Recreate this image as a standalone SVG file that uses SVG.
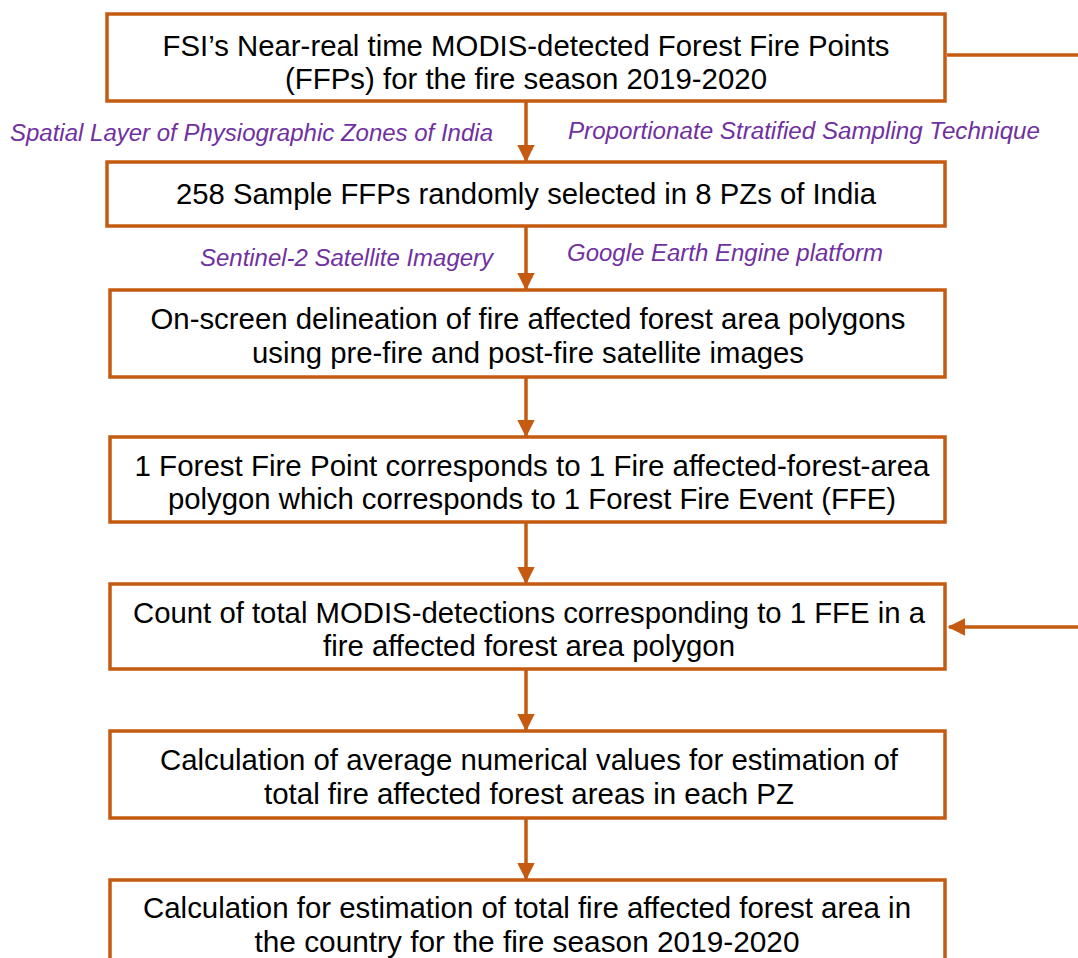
<svg xmlns="http://www.w3.org/2000/svg" width="1078" height="958" viewBox="0 0 1078 958">
<style>
.box{fill:#fff;stroke:#C55A11;stroke-width:3.5}
.t{font-family:"Liberation Sans",Arial,sans-serif;font-size:29px;fill:#000;text-anchor:middle}
.l{font-family:"Liberation Sans",Arial,sans-serif;font-size:23px;font-style:italic;fill:#7030A0}
.c{stroke:#C55A11;stroke-width:3.5;fill:none}
</style>
<defs>
<marker id="ah" markerWidth="5" markerHeight="5" refX="4.6" refY="2.5" orient="auto" markerUnits="strokeWidth">
<path d="M0,0 L5,2.5 L0,5 Z" fill="#C55A11"/>
</marker>
</defs>
<rect width="1078" height="958" fill="#fff"/>
<g id="connectors">
<line class="c" x1="947" y1="55" x2="1078" y2="55"/>
<line class="c" x1="1078" y1="627" x2="949" y2="627" marker-end="url(#ah)"/>
<line class="c" x1="526" y1="101" x2="526" y2="161" marker-end="url(#ah)"/>
<line class="c" x1="526" y1="226" x2="526" y2="289" marker-end="url(#ah)"/>
<line class="c" x1="526" y1="377" x2="526" y2="436" marker-end="url(#ah)"/>
<line class="c" x1="526" y1="522" x2="526" y2="583" marker-end="url(#ah)"/>
<line class="c" x1="526" y1="669" x2="526" y2="730" marker-end="url(#ah)"/>
<line class="c" x1="526" y1="818" x2="526" y2="879" marker-end="url(#ah)"/>
</g>
<g id="labels">
<text class="l" x="10" y="141" textLength="483" lengthAdjust="spacingAndGlyphs">Spatial Layer of Physiographic Zones of India</text>
<text class="l" x="568" y="139" textLength="472" lengthAdjust="spacingAndGlyphs">Proportionate Stratified Sampling Technique</text>
<text class="l" x="200" y="266" textLength="293" lengthAdjust="spacingAndGlyphs">Sentinel-2 Satellite Imagery</text>
<text class="l" x="567" y="261" textLength="316" lengthAdjust="spacingAndGlyphs">Google Earth Engine platform</text>
</g>
<g id="n1">
<rect class="box" x="107" y="14" width="838" height="87"/>
<text class="t" x="526" y="56" textLength="727" lengthAdjust="spacingAndGlyphs">FSI’s Near-real time MODIS-detected Forest Fire Points</text>
<text class="t" x="526" y="89" textLength="482" lengthAdjust="spacingAndGlyphs">(FFPs) for the fire season 2019-2020</text>
</g>
<g id="n2">
<rect class="box" x="107" y="162" width="838" height="64"/>
<text class="t" x="526" y="204" textLength="700" lengthAdjust="spacingAndGlyphs">258 Sample FFPs randomly selected in 8 PZs of India</text>
</g>
<g id="n3">
<rect class="box" x="110" y="290" width="835" height="87"/>
<text class="t" x="528" y="329" textLength="755" lengthAdjust="spacingAndGlyphs">On-screen delineation of fire affected forest area polygons</text>
<text class="t" x="528" y="363" textLength="552" lengthAdjust="spacingAndGlyphs">using pre-fire and post-fire satellite images</text>
</g>
<g id="n4">
<rect class="box" x="110" y="437" width="835" height="85"/>
<text class="t" x="532" y="476" textLength="795" lengthAdjust="spacingAndGlyphs">1 Forest Fire Point corresponds to 1 Fire affected-forest-area</text>
<text class="t" x="532" y="509" textLength="728" lengthAdjust="spacingAndGlyphs">polygon which corresponds to 1 Forest Fire Event (FFE)</text>
</g>
<g id="n5">
<rect class="box" x="110" y="584" width="835" height="85"/>
<text class="t" x="529" y="623" textLength="792" lengthAdjust="spacingAndGlyphs">Count of total MODIS-detections corresponding to 1 FFE in a</text>
<text class="t" x="529" y="656" textLength="412" lengthAdjust="spacingAndGlyphs">fire affected forest area polygon</text>
</g>
<g id="n6">
<rect class="box" x="110" y="731" width="835" height="87"/>
<text class="t" x="529" y="770" textLength="738" lengthAdjust="spacingAndGlyphs">Calculation of average numerical values for estimation of</text>
<text class="t" x="529" y="804" textLength="530" lengthAdjust="spacingAndGlyphs">total fire affected forest areas in each PZ</text>
</g>
<g id="n7">
<rect class="box" x="110" y="880" width="835" height="90"/>
<text class="t" x="527" y="918" textLength="768" lengthAdjust="spacingAndGlyphs">Calculation for estimation of total fire affected forest area in</text>
<text class="t" x="527" y="952" textLength="545" lengthAdjust="spacingAndGlyphs">the country for the fire season 2019-2020</text>
</g>
</svg>
